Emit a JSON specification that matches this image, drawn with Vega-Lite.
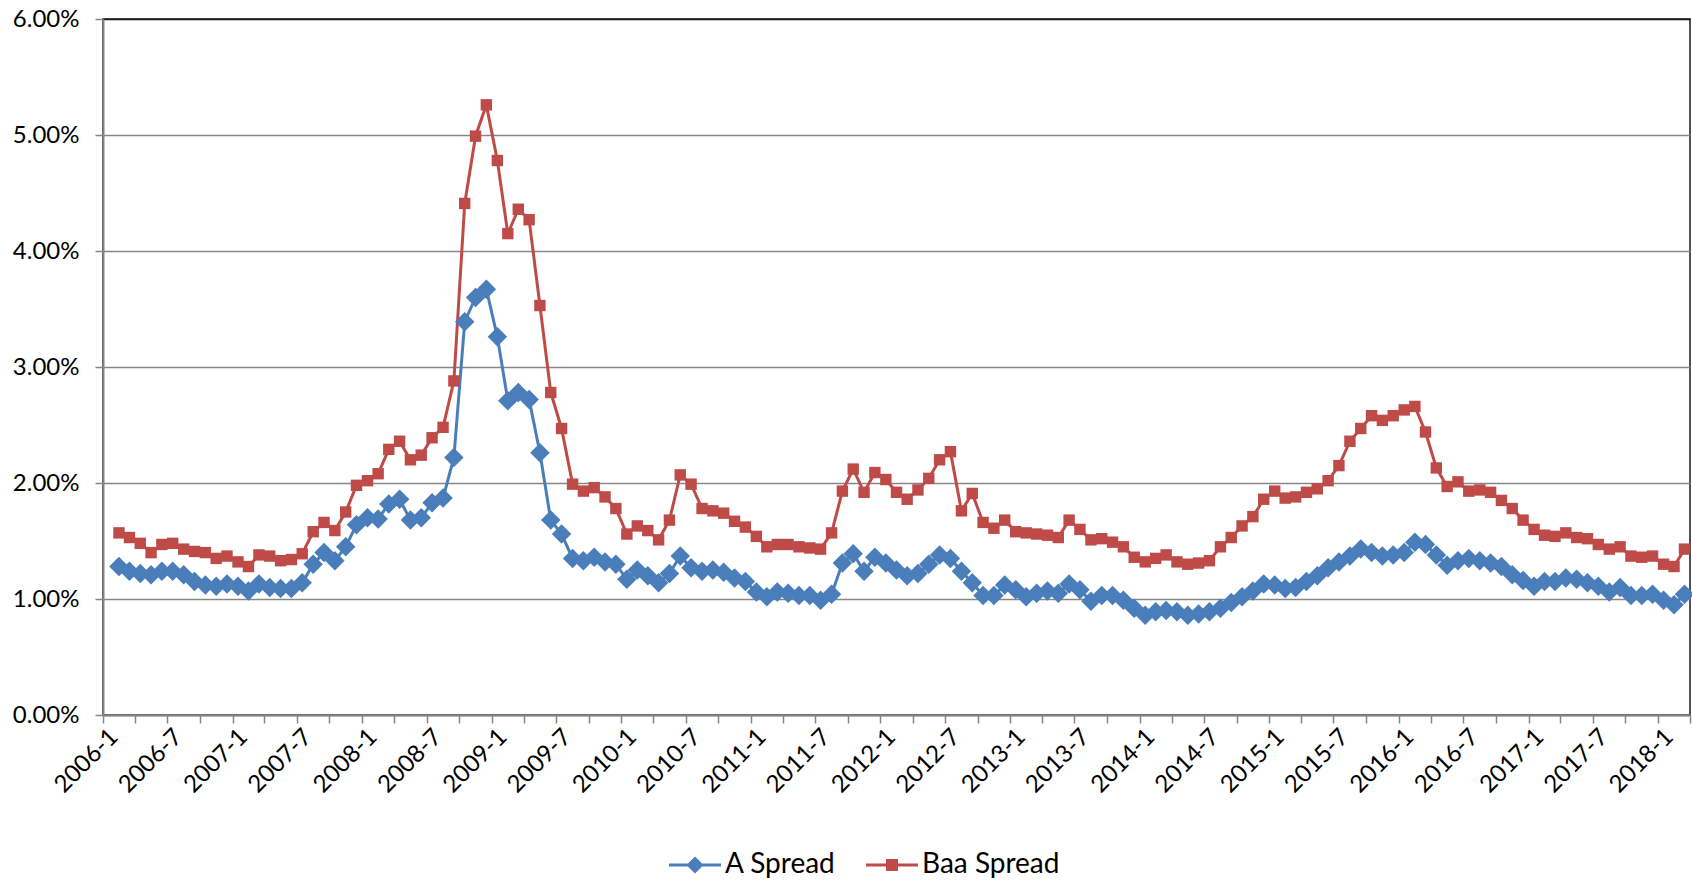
{
  "$schema": "https://vega.github.io/schema/vega-lite/v6.json",
  "width": 1587,
  "height": 696,
  "padding": {"left": 5, "top": 7, "right": 0, "bottom": 0},
  "background": "white",
  "config": {"view": {"stroke": "#1a1a1a", "strokeWidth": 1.5}, "font": "Lato"},
  "data": {"values": [
{"month":"2006-02-01","series":"A Spread","spread":1.28},{"month":"2006-03-01","series":"A Spread","spread":1.24},{"month":"2006-04-01","series":"A Spread","spread":1.22},{"month":"2006-05-01","series":"A Spread","spread":1.21},{"month":"2006-06-01","series":"A Spread","spread":1.24},{"month":"2006-07-01","series":"A Spread","spread":1.24},{"month":"2006-08-01","series":"A Spread","spread":1.21},{"month":"2006-09-01","series":"A Spread","spread":1.15},{"month":"2006-10-01","series":"A Spread","spread":1.12},{"month":"2006-11-01","series":"A Spread","spread":1.11},{"month":"2006-12-01","series":"A Spread","spread":1.13},
{"month":"2007-01-01","series":"A Spread","spread":1.11},{"month":"2007-02-01","series":"A Spread","spread":1.07},{"month":"2007-03-01","series":"A Spread","spread":1.13},{"month":"2007-04-01","series":"A Spread","spread":1.10},{"month":"2007-05-01","series":"A Spread","spread":1.09},{"month":"2007-06-01","series":"A Spread","spread":1.09},{"month":"2007-07-01","series":"A Spread","spread":1.14},{"month":"2007-08-01","series":"A Spread","spread":1.30},{"month":"2007-09-01","series":"A Spread","spread":1.40},{"month":"2007-10-01","series":"A Spread","spread":1.33},{"month":"2007-11-01","series":"A Spread","spread":1.45},{"month":"2007-12-01","series":"A Spread","spread":1.64},
{"month":"2008-01-01","series":"A Spread","spread":1.70},{"month":"2008-02-01","series":"A Spread","spread":1.69},{"month":"2008-03-01","series":"A Spread","spread":1.82},{"month":"2008-04-01","series":"A Spread","spread":1.86},{"month":"2008-05-01","series":"A Spread","spread":1.68},{"month":"2008-06-01","series":"A Spread","spread":1.70},{"month":"2008-07-01","series":"A Spread","spread":1.83},{"month":"2008-08-01","series":"A Spread","spread":1.87},{"month":"2008-09-01","series":"A Spread","spread":2.22},{"month":"2008-10-01","series":"A Spread","spread":3.39},{"month":"2008-11-01","series":"A Spread","spread":3.60},{"month":"2008-12-01","series":"A Spread","spread":3.67},
{"month":"2009-01-01","series":"A Spread","spread":3.26},{"month":"2009-02-01","series":"A Spread","spread":2.71},{"month":"2009-03-01","series":"A Spread","spread":2.78},{"month":"2009-04-01","series":"A Spread","spread":2.72},{"month":"2009-05-01","series":"A Spread","spread":2.26},{"month":"2009-06-01","series":"A Spread","spread":1.68},{"month":"2009-07-01","series":"A Spread","spread":1.56},{"month":"2009-08-01","series":"A Spread","spread":1.35},{"month":"2009-09-01","series":"A Spread","spread":1.33},{"month":"2009-10-01","series":"A Spread","spread":1.36},{"month":"2009-11-01","series":"A Spread","spread":1.32},{"month":"2009-12-01","series":"A Spread","spread":1.30},
{"month":"2010-01-01","series":"A Spread","spread":1.17},{"month":"2010-02-01","series":"A Spread","spread":1.25},{"month":"2010-03-01","series":"A Spread","spread":1.20},{"month":"2010-04-01","series":"A Spread","spread":1.14},{"month":"2010-05-01","series":"A Spread","spread":1.22},{"month":"2010-06-01","series":"A Spread","spread":1.37},{"month":"2010-07-01","series":"A Spread","spread":1.27},{"month":"2010-08-01","series":"A Spread","spread":1.24},{"month":"2010-09-01","series":"A Spread","spread":1.25},{"month":"2010-10-01","series":"A Spread","spread":1.23},{"month":"2010-11-01","series":"A Spread","spread":1.18},{"month":"2010-12-01","series":"A Spread","spread":1.15},
{"month":"2011-01-01","series":"A Spread","spread":1.06},{"month":"2011-02-01","series":"A Spread","spread":1.02},{"month":"2011-03-01","series":"A Spread","spread":1.06},{"month":"2011-04-01","series":"A Spread","spread":1.05},{"month":"2011-05-01","series":"A Spread","spread":1.03},{"month":"2011-06-01","series":"A Spread","spread":1.03},{"month":"2011-07-01","series":"A Spread","spread":0.99},{"month":"2011-08-01","series":"A Spread","spread":1.04},{"month":"2011-09-01","series":"A Spread","spread":1.31},{"month":"2011-10-01","series":"A Spread","spread":1.39},{"month":"2011-11-01","series":"A Spread","spread":1.24},{"month":"2011-12-01","series":"A Spread","spread":1.36},
{"month":"2012-01-01","series":"A Spread","spread":1.31},{"month":"2012-02-01","series":"A Spread","spread":1.25},{"month":"2012-03-01","series":"A Spread","spread":1.20},{"month":"2012-04-01","series":"A Spread","spread":1.22},{"month":"2012-05-01","series":"A Spread","spread":1.30},{"month":"2012-06-01","series":"A Spread","spread":1.38},{"month":"2012-07-01","series":"A Spread","spread":1.35},{"month":"2012-08-01","series":"A Spread","spread":1.24},{"month":"2012-09-01","series":"A Spread","spread":1.14},{"month":"2012-10-01","series":"A Spread","spread":1.03},{"month":"2012-11-01","series":"A Spread","spread":1.03},{"month":"2012-12-01","series":"A Spread","spread":1.12},
{"month":"2013-01-01","series":"A Spread","spread":1.08},{"month":"2013-02-01","series":"A Spread","spread":1.02},{"month":"2013-03-01","series":"A Spread","spread":1.05},{"month":"2013-04-01","series":"A Spread","spread":1.07},{"month":"2013-05-01","series":"A Spread","spread":1.05},{"month":"2013-06-01","series":"A Spread","spread":1.13},{"month":"2013-07-01","series":"A Spread","spread":1.08},{"month":"2013-08-01","series":"A Spread","spread":0.98},{"month":"2013-09-01","series":"A Spread","spread":1.03},{"month":"2013-10-01","series":"A Spread","spread":1.03},{"month":"2013-11-01","series":"A Spread","spread":0.99},{"month":"2013-12-01","series":"A Spread","spread":0.92},
{"month":"2014-01-01","series":"A Spread","spread":0.86},{"month":"2014-02-01","series":"A Spread","spread":0.89},{"month":"2014-03-01","series":"A Spread","spread":0.90},{"month":"2014-04-01","series":"A Spread","spread":0.89},{"month":"2014-05-01","series":"A Spread","spread":0.86},{"month":"2014-06-01","series":"A Spread","spread":0.87},{"month":"2014-07-01","series":"A Spread","spread":0.89},{"month":"2014-08-01","series":"A Spread","spread":0.92},{"month":"2014-09-01","series":"A Spread","spread":0.97},{"month":"2014-10-01","series":"A Spread","spread":1.02},{"month":"2014-11-01","series":"A Spread","spread":1.07},{"month":"2014-12-01","series":"A Spread","spread":1.13},
{"month":"2015-01-01","series":"A Spread","spread":1.12},{"month":"2015-02-01","series":"A Spread","spread":1.09},{"month":"2015-03-01","series":"A Spread","spread":1.10},{"month":"2015-04-01","series":"A Spread","spread":1.15},{"month":"2015-05-01","series":"A Spread","spread":1.20},{"month":"2015-06-01","series":"A Spread","spread":1.27},{"month":"2015-07-01","series":"A Spread","spread":1.32},{"month":"2015-08-01","series":"A Spread","spread":1.37},{"month":"2015-09-01","series":"A Spread","spread":1.43},{"month":"2015-10-01","series":"A Spread","spread":1.40},{"month":"2015-11-01","series":"A Spread","spread":1.37},{"month":"2015-12-01","series":"A Spread","spread":1.38},
{"month":"2016-01-01","series":"A Spread","spread":1.40},{"month":"2016-02-01","series":"A Spread","spread":1.49},{"month":"2016-03-01","series":"A Spread","spread":1.47},{"month":"2016-04-01","series":"A Spread","spread":1.38},{"month":"2016-05-01","series":"A Spread","spread":1.29},{"month":"2016-06-01","series":"A Spread","spread":1.33},{"month":"2016-07-01","series":"A Spread","spread":1.35},{"month":"2016-08-01","series":"A Spread","spread":1.33},{"month":"2016-09-01","series":"A Spread","spread":1.31},{"month":"2016-10-01","series":"A Spread","spread":1.28},{"month":"2016-11-01","series":"A Spread","spread":1.21},{"month":"2016-12-01","series":"A Spread","spread":1.16},
{"month":"2017-01-01","series":"A Spread","spread":1.11},{"month":"2017-02-01","series":"A Spread","spread":1.15},{"month":"2017-03-01","series":"A Spread","spread":1.15},{"month":"2017-04-01","series":"A Spread","spread":1.18},{"month":"2017-05-01","series":"A Spread","spread":1.17},{"month":"2017-06-01","series":"A Spread","spread":1.14},{"month":"2017-07-01","series":"A Spread","spread":1.11},{"month":"2017-08-01","series":"A Spread","spread":1.06},{"month":"2017-09-01","series":"A Spread","spread":1.10},{"month":"2017-10-01","series":"A Spread","spread":1.03},{"month":"2017-11-01","series":"A Spread","spread":1.03},{"month":"2017-12-01","series":"A Spread","spread":1.04},
{"month":"2018-01-01","series":"A Spread","spread":0.99},{"month":"2018-02-01","series":"A Spread","spread":0.95},{"month":"2018-03-01","series":"A Spread","spread":1.04},
{"month":"2006-02-01","series":"Baa Spread","spread":1.57},{"month":"2006-03-01","series":"Baa Spread","spread":1.53},{"month":"2006-04-01","series":"Baa Spread","spread":1.48},{"month":"2006-05-01","series":"Baa Spread","spread":1.40},{"month":"2006-06-01","series":"Baa Spread","spread":1.47},{"month":"2006-07-01","series":"Baa Spread","spread":1.48},{"month":"2006-08-01","series":"Baa Spread","spread":1.43},{"month":"2006-09-01","series":"Baa Spread","spread":1.41},{"month":"2006-10-01","series":"Baa Spread","spread":1.40},{"month":"2006-11-01","series":"Baa Spread","spread":1.35},{"month":"2006-12-01","series":"Baa Spread","spread":1.37},
{"month":"2007-01-01","series":"Baa Spread","spread":1.32},{"month":"2007-02-01","series":"Baa Spread","spread":1.28},{"month":"2007-03-01","series":"Baa Spread","spread":1.38},{"month":"2007-04-01","series":"Baa Spread","spread":1.37},{"month":"2007-05-01","series":"Baa Spread","spread":1.33},{"month":"2007-06-01","series":"Baa Spread","spread":1.34},{"month":"2007-07-01","series":"Baa Spread","spread":1.39},{"month":"2007-08-01","series":"Baa Spread","spread":1.58},{"month":"2007-09-01","series":"Baa Spread","spread":1.66},{"month":"2007-10-01","series":"Baa Spread","spread":1.59},{"month":"2007-11-01","series":"Baa Spread","spread":1.75},{"month":"2007-12-01","series":"Baa Spread","spread":1.98},
{"month":"2008-01-01","series":"Baa Spread","spread":2.02},{"month":"2008-02-01","series":"Baa Spread","spread":2.08},{"month":"2008-03-01","series":"Baa Spread","spread":2.29},{"month":"2008-04-01","series":"Baa Spread","spread":2.36},{"month":"2008-05-01","series":"Baa Spread","spread":2.20},{"month":"2008-06-01","series":"Baa Spread","spread":2.24},{"month":"2008-07-01","series":"Baa Spread","spread":2.39},{"month":"2008-08-01","series":"Baa Spread","spread":2.48},{"month":"2008-09-01","series":"Baa Spread","spread":2.88},{"month":"2008-10-01","series":"Baa Spread","spread":4.41},{"month":"2008-11-01","series":"Baa Spread","spread":4.99},{"month":"2008-12-01","series":"Baa Spread","spread":5.26},
{"month":"2009-01-01","series":"Baa Spread","spread":4.78},{"month":"2009-02-01","series":"Baa Spread","spread":4.15},{"month":"2009-03-01","series":"Baa Spread","spread":4.36},{"month":"2009-04-01","series":"Baa Spread","spread":4.27},{"month":"2009-05-01","series":"Baa Spread","spread":3.53},{"month":"2009-06-01","series":"Baa Spread","spread":2.78},{"month":"2009-07-01","series":"Baa Spread","spread":2.47},{"month":"2009-08-01","series":"Baa Spread","spread":1.99},{"month":"2009-09-01","series":"Baa Spread","spread":1.93},{"month":"2009-10-01","series":"Baa Spread","spread":1.96},{"month":"2009-11-01","series":"Baa Spread","spread":1.88},{"month":"2009-12-01","series":"Baa Spread","spread":1.78},
{"month":"2010-01-01","series":"Baa Spread","spread":1.56},{"month":"2010-02-01","series":"Baa Spread","spread":1.63},{"month":"2010-03-01","series":"Baa Spread","spread":1.59},{"month":"2010-04-01","series":"Baa Spread","spread":1.51},{"month":"2010-05-01","series":"Baa Spread","spread":1.68},{"month":"2010-06-01","series":"Baa Spread","spread":2.07},{"month":"2010-07-01","series":"Baa Spread","spread":1.99},{"month":"2010-08-01","series":"Baa Spread","spread":1.78},{"month":"2010-09-01","series":"Baa Spread","spread":1.76},{"month":"2010-10-01","series":"Baa Spread","spread":1.74},{"month":"2010-11-01","series":"Baa Spread","spread":1.67},{"month":"2010-12-01","series":"Baa Spread","spread":1.62},
{"month":"2011-01-01","series":"Baa Spread","spread":1.54},{"month":"2011-02-01","series":"Baa Spread","spread":1.45},{"month":"2011-03-01","series":"Baa Spread","spread":1.47},{"month":"2011-04-01","series":"Baa Spread","spread":1.47},{"month":"2011-05-01","series":"Baa Spread","spread":1.45},{"month":"2011-06-01","series":"Baa Spread","spread":1.44},{"month":"2011-07-01","series":"Baa Spread","spread":1.43},{"month":"2011-08-01","series":"Baa Spread","spread":1.57},{"month":"2011-09-01","series":"Baa Spread","spread":1.93},{"month":"2011-10-01","series":"Baa Spread","spread":2.12},{"month":"2011-11-01","series":"Baa Spread","spread":1.92},{"month":"2011-12-01","series":"Baa Spread","spread":2.09},
{"month":"2012-01-01","series":"Baa Spread","spread":2.03},{"month":"2012-02-01","series":"Baa Spread","spread":1.92},{"month":"2012-03-01","series":"Baa Spread","spread":1.86},{"month":"2012-04-01","series":"Baa Spread","spread":1.94},{"month":"2012-05-01","series":"Baa Spread","spread":2.04},{"month":"2012-06-01","series":"Baa Spread","spread":2.20},{"month":"2012-07-01","series":"Baa Spread","spread":2.27},{"month":"2012-08-01","series":"Baa Spread","spread":1.76},{"month":"2012-09-01","series":"Baa Spread","spread":1.91},{"month":"2012-10-01","series":"Baa Spread","spread":1.66},{"month":"2012-11-01","series":"Baa Spread","spread":1.61},{"month":"2012-12-01","series":"Baa Spread","spread":1.68},
{"month":"2013-01-01","series":"Baa Spread","spread":1.58},{"month":"2013-02-01","series":"Baa Spread","spread":1.57},{"month":"2013-03-01","series":"Baa Spread","spread":1.56},{"month":"2013-04-01","series":"Baa Spread","spread":1.55},{"month":"2013-05-01","series":"Baa Spread","spread":1.53},{"month":"2013-06-01","series":"Baa Spread","spread":1.68},{"month":"2013-07-01","series":"Baa Spread","spread":1.60},{"month":"2013-08-01","series":"Baa Spread","spread":1.51},{"month":"2013-09-01","series":"Baa Spread","spread":1.52},{"month":"2013-10-01","series":"Baa Spread","spread":1.49},{"month":"2013-11-01","series":"Baa Spread","spread":1.45},{"month":"2013-12-01","series":"Baa Spread","spread":1.36},
{"month":"2014-01-01","series":"Baa Spread","spread":1.32},{"month":"2014-02-01","series":"Baa Spread","spread":1.35},{"month":"2014-03-01","series":"Baa Spread","spread":1.38},{"month":"2014-04-01","series":"Baa Spread","spread":1.32},{"month":"2014-05-01","series":"Baa Spread","spread":1.30},{"month":"2014-06-01","series":"Baa Spread","spread":1.31},{"month":"2014-07-01","series":"Baa Spread","spread":1.33},{"month":"2014-08-01","series":"Baa Spread","spread":1.45},{"month":"2014-09-01","series":"Baa Spread","spread":1.53},{"month":"2014-10-01","series":"Baa Spread","spread":1.63},{"month":"2014-11-01","series":"Baa Spread","spread":1.71},{"month":"2014-12-01","series":"Baa Spread","spread":1.86},
{"month":"2015-01-01","series":"Baa Spread","spread":1.93},{"month":"2015-02-01","series":"Baa Spread","spread":1.87},{"month":"2015-03-01","series":"Baa Spread","spread":1.88},{"month":"2015-04-01","series":"Baa Spread","spread":1.92},{"month":"2015-05-01","series":"Baa Spread","spread":1.95},{"month":"2015-06-01","series":"Baa Spread","spread":2.02},{"month":"2015-07-01","series":"Baa Spread","spread":2.15},{"month":"2015-08-01","series":"Baa Spread","spread":2.36},{"month":"2015-09-01","series":"Baa Spread","spread":2.47},{"month":"2015-10-01","series":"Baa Spread","spread":2.58},{"month":"2015-11-01","series":"Baa Spread","spread":2.54},{"month":"2015-12-01","series":"Baa Spread","spread":2.58},
{"month":"2016-01-01","series":"Baa Spread","spread":2.63},{"month":"2016-02-01","series":"Baa Spread","spread":2.66},{"month":"2016-03-01","series":"Baa Spread","spread":2.44},{"month":"2016-04-01","series":"Baa Spread","spread":2.13},{"month":"2016-05-01","series":"Baa Spread","spread":1.97},{"month":"2016-06-01","series":"Baa Spread","spread":2.01},{"month":"2016-07-01","series":"Baa Spread","spread":1.93},{"month":"2016-08-01","series":"Baa Spread","spread":1.94},{"month":"2016-09-01","series":"Baa Spread","spread":1.92},{"month":"2016-10-01","series":"Baa Spread","spread":1.85},{"month":"2016-11-01","series":"Baa Spread","spread":1.78},{"month":"2016-12-01","series":"Baa Spread","spread":1.68},
{"month":"2017-01-01","series":"Baa Spread","spread":1.60},{"month":"2017-02-01","series":"Baa Spread","spread":1.55},{"month":"2017-03-01","series":"Baa Spread","spread":1.54},{"month":"2017-04-01","series":"Baa Spread","spread":1.57},{"month":"2017-05-01","series":"Baa Spread","spread":1.53},{"month":"2017-06-01","series":"Baa Spread","spread":1.52},{"month":"2017-07-01","series":"Baa Spread","spread":1.47},{"month":"2017-08-01","series":"Baa Spread","spread":1.43},{"month":"2017-09-01","series":"Baa Spread","spread":1.45},{"month":"2017-10-01","series":"Baa Spread","spread":1.37},{"month":"2017-11-01","series":"Baa Spread","spread":1.36},{"month":"2017-12-01","series":"Baa Spread","spread":1.37},
{"month":"2018-01-01","series":"Baa Spread","spread":1.30},{"month":"2018-02-01","series":"Baa Spread","spread":1.28},{"month":"2018-03-01","series":"Baa Spread","spread":1.43}
  ]},
  "encoding": {
    "x": {
      "field": "month", "type": "temporal", "timeUnit": "utcyearmonth", "bandPosition": 0.5,
      "scale": {"domain": [{"year": 2006, "month": 1, "date": 1, "utc": true}, {"year": 2018, "month": 4, "date": 1, "utc": true}]},
      "axis": {
        "title": null, "grid": false,
        "tickCount": {"interval": "month", "step": 3},
        "labelExpr": "(utcFormat(datum.value, '%m') == '01' || utcFormat(datum.value, '%m') == '07') ? utcFormat(datum.value, '%Y-%-m') : ''",
        "labelAngle": -45, "labelAlign": "right", "labelBaseline": "middle",
        "labelFont": "Lato", "labelFontSize": 24, "labelColor": "#000000",
        "labelOverlap": false, "labelFlush": false, "labelPadding": 10, "labelOffset": 11,
        "tickSize": 8, "tickColor": "#868686", "tickWidth": 1.5,
        "domainColor": "#868686", "domainWidth": 2
      }
    },
    "y": {
      "field": "spread", "type": "quantitative",
      "scale": {"domain": [0, 6], "nice": false},
      "axis": {
        "title": null, "values": [0, 1, 2, 3, 4, 5, 6],
        "labelExpr": "format(datum.value, '.2f') + '%'",
        "labelFont": "Lato", "labelFontSize": 24, "labelColor": "#000000", "labelPadding": 16,
        "gridColor": {"condition": {"test": "datum.value === 6", "value": "#1a1a1a"}, "value": "#868686"},
        "gridWidth": 1.5,
        "tickSize": 8, "tickColor": "#868686", "tickWidth": 1.5,
        "domainColor": "#868686", "domainWidth": 2,
        "minExtent": 98, "maxExtent": 98
      }
    },
    "color": {
      "field": "series", "type": "nominal",
      "scale": {"domain": ["A Spread", "Baa Spread"], "range": ["#4A7EBB", "#BE4B48"]},
      "legend": {
        "orient": "none", "legendX": 566, "legendY": 820, "direction": "horizontal", "title": null,
        "labelFont": "Lato", "labelFontSize": 28, "labelColor": "#000000",
        "symbolSize": 2704, "labelOffset": 4, "columnPadding": 30,
        "encode": {
          "symbols": {
            "update": {
              "shape": {"signal": "datum.value === 'A Spread' ? 'M-1,-0.058L1,-0.058L1,0.058L-1,0.058ZM0,-0.33L0.33,0L0,0.33L-0.33,0Z' : 'M-1,-0.058L1,-0.058L1,0.058L-1,0.058ZM-0.23,-0.23L0.23,-0.23L0.23,0.23L-0.23,0.23Z'"},
              "fill": {"scale": "color", "field": "value"},
              "strokeWidth": {"value": 0},
              "size": {"value": 2704},
              "opacity": {"value": 1}
            }
          }
        }
      }
    }
  },
  "layer": [
    {"mark": {"type": "line", "strokeWidth": 3}},
    {
      "transform": [{"filter": "datum.series === 'A Spread'"}],
      "mark": {"type": "point", "shape": "diamond", "size": 380, "filled": true, "opacity": 1}
    },
    {
      "transform": [{"filter": "datum.series === 'Baa Spread'"}],
      "mark": {"type": "point", "shape": "square", "size": 130, "filled": true, "opacity": 1}
    }
  ]
}
